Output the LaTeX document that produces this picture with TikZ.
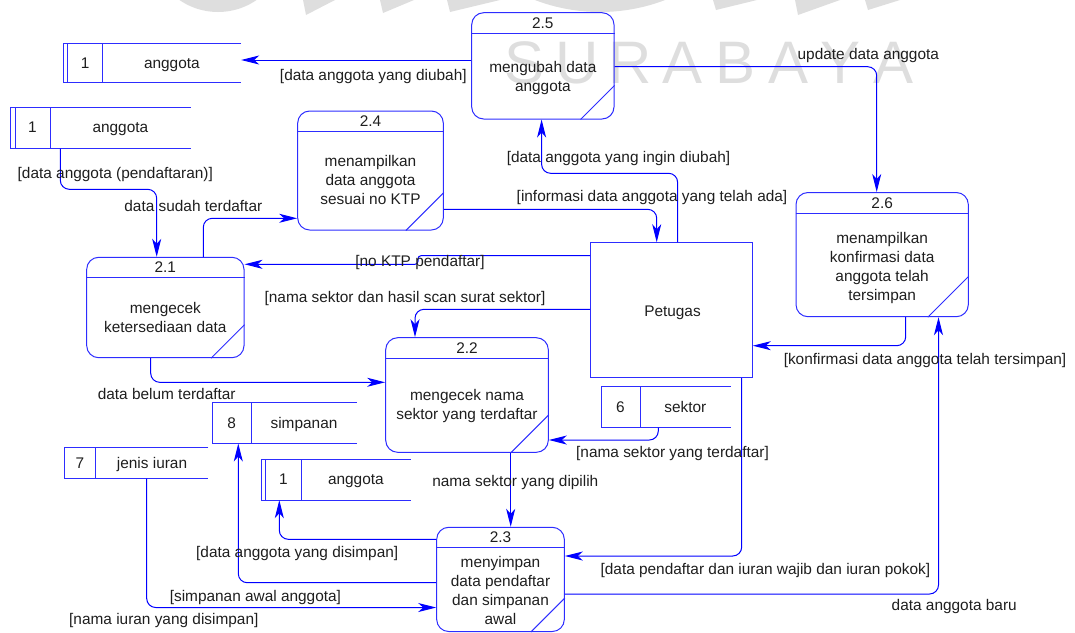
\documentclass[tikz,border=0pt]{standalone}
\usepackage{fontspec}
\setmainfont{Liberation Sans}
\usetikzlibrary{arrows.meta,calc}

\definecolor{flowblue}{RGB}{0,0,255}
\definecolor{boxblue}{RGB}{45,45,255}
\definecolor{inktext}{RGB}{30,30,30}
\definecolor{markgray}{RGB}{222,222,222}

\tikzset{
  boxline/.style={draw=boxblue, line width=1pt},
  procbox/.style={boxline, rectangle, rounded corners=12pt, inner sep=0pt},
  storebox/.style={rectangle, inner sep=0pt},
  flow/.style={draw=flowblue, line width=1pt, rounded corners=9pt,
    -{Stealth[length=18pt, width=9pt, inset=5pt]}},
  txt/.style={font=\fontsize{15.4}{19}\selectfont, text=inktext, inner sep=0pt, anchor=base},
  bodytext/.style={txt, align=center},
  lbl/.style={txt},
  markletter/.style={font=\fontsize{60}{60}\selectfont, text=markgray, inner sep=0pt, anchor=base}
}

% process: name, left, top, right, bottom, number, text, baseline of last line, corner cut
\newcommand{\dfdproc}[9]{%
  \node[procbox, minimum width={#4-#2}, minimum height={#5-#3}] (#1) at ({(#2+#4)/2},{(#3+#5)/2}) {};
  \draw[boxline] ($(#1.north west)+(0,21)$) -- ($(#1.north east)+(0,21)$);
  \draw[boxline] ($(#1.south east)-(#9,0)$) -- ($(#1.south east)-(0,#9)$);
  \node[txt] (#1-num) at ({(#2+#4)/2},{#3+15.5}) {#6};
  \node[bodytext] (#1-body) at ({(#2+#4)/2},#8) {#7};
}

% data store: name, left, top, right, bottom, divider, number, label, second left line offset
\newcommand{\dfdstore}[9]{%
  \node[storebox, minimum width={#4-#2+#9}, minimum height={#5-#3}] (#1) at ({(#2-#9+#4)/2},{(#3+#5)/2}) {};
  \draw[boxline] (#4,#3) -- ({#2-#9},#3) -- ({#2-#9},#5) -- (#4,#5);
  \draw[boxline] (#2,#3) -- (#2,#5);
  \draw[boxline] (#6,#3) -- (#6,#5);
  \node[txt] (#1-num) at ({(#2+#6)/2},{(#3+#5)/2+5}) {#7};
  \node[txt] (#1-name) at ({(#6+#4)/2},{(#3+#5)/2+5}) {#8};
}

\begin{document}
\begin{tikzpicture}[x=1pt, y=-1pt]
\useasboundingbox (0,0) rectangle (1075,632);

% faint background mark
\fill[markgray] (218,-56) circle[radius=68];
\fill[markgray] (303,0) -- (335,0) -- (306,15) -- cycle;
\fill[markgray] (380,0) -- (414,0) -- (383,13) -- cycle;
\fill[markgray] (447,0) -- (500,0) -- (450,12) -- cycle;
\fill[markgray] (600,-170) circle[radius=182];
\fill[markgray] (713,0) -- (757,0) -- (716,10) -- cycle;
\fill[markgray] (795,0) -- (840,0) -- (798,15) -- cycle;
\fill[markgray] (865,0) -- (900,0) -- (868,10) -- cycle;
\foreach \ch [count=\i from 0] in {S,U,R,A,B,A,Y,A}
  \node[markletter] (mark\i) at ({525+52.6*\i},83) {\ch};

% processes
\dfdproc{p25}{471.7}{12.7}{614}{119}{2.5}{mengubah data\\anggota}{91.8}{34}
\dfdproc{p24}{297.7}{111}{443.3}{230}{2.4}{menampilkan\\data anggota\\sesuai no KTP}{204.5}{38}
\dfdproc{p26}{796}{192.5}{968.3}{316.7}{2.6}{menampilkan\\konfirmasi data\\anggota telah\\tersimpan}{300.5}{41}
\dfdproc{p21}{86.7}{257.3}{244}{357.7}{2.1}{mengecek\\ketersediaan data}{332.8}{33.5}
\dfdproc{p22}{385.7}{337.7}{548.3}{452.3}{2.2}{mengecek nama\\sektor yang terdaftar}{419.5}{38}
\dfdproc{p23}{436.7}{527.3}{564.3}{631.5}{2.3}{menyimpan\\data pendaftar\\dan simpanan\\awal}{624.5}{34}

% external entity
\node[boxline, rectangle, inner sep=0pt, minimum width=161.6, minimum height=135] (pet) at (671.5,310.2) {};
\node[txt] (pet-name) at (672.5,316) {Petugas};

% data stores
\dfdstore{sA}{67.7}{43.3}{241}{82.7}{102.7}{1}{anggota}{4.4}
\dfdstore{sB}{15}{107.3}{190.7}{148.3}{50}{1}{anggota}{4.3}
\dfdstore{s8}{212}{402.7}{356.7}{443.3}{251.3}{8}{simpanan}{0}
\dfdstore{s7}{64.3}{447.7}{208.3}{478.3}{95.7}{7}{jenis iuran}{0}
\dfdstore{s1}{265.7}{459.7}{410.7}{500}{301}{1}{anggota}{4}
\dfdstore{s6}{601}{386.7}{730.7}{427.3}{640}{6}{sektor}{0}

% data flows
\draw[flow] (p25.west |- 0,60) -- (sA.east |- 0,60);
\draw[flow] (p25.east |- 0,66.7) -| (p26.north -| 876.7,0);
\draw[flow] (pet.north -| 677.6,0) |- (541.6,173.3) -- (p25.south -| 541.6,0);
\draw[flow] (sB.south -| 60.3,0) |- (156.7,189.3) -- (p21.north -| 156.7,0);
\draw[flow] (p21.north -| 203.3,0) |- (p24.west |- 0,218.3);
\draw[flow] (p24.east |- 0,209.3) -| (pet.north -| 656.7,0);
\draw[flow, rounded corners=3pt] (pet.west |- 0,255.7) -- (418,255.7) -- (418,264.3) -- (p21.east |- 0,264.3);
\draw[flow] (pet.west |- 0,309.3) -| (p22.north -| 415,0);
\draw[flow] (p21.south -| 150.7,0) |- (p22.west |- 0,382.3);
\draw[flow] (s6.south -| 658.3,0) |- (p22.east |- 0,440);
\draw[flow] (p22.south -| 510.7,0) -- (p23.north -| 510.7,0);
\draw[flow] (p23.west |- 0,539.3) -| (s1.south -| 279.3,0);
\draw[flow] (p23.west |- 0,582.7) -| (s8.south -| 238.3,0);
\draw[flow] (s7.south -| 146.7,0) |- (p23.west |- 0,607.5);
\draw[flow] (pet.south -| 741.7,0) |- (p23.east |- 0,556);
\draw[flow] (p23.east |- 0,594) -| (p26.south -| 938.5,0);
\draw[flow] (p26.south -| 905.7,0) |- (pet.east |- 0,345.7);

% flow labels
\node[lbl] (l1) at (373.3,80.2) {[data anggota yang diubah]};
\node[lbl] (l2) at (868.3,59.5) {update data anggota};
\node[lbl] (l3) at (618.5,162.5) {[data anggota yang ingin diubah]};
\node[lbl] (l4) at (652,201.8) {[informasi data anggota yang telah ada]};
\node[lbl] (l5) at (115.3,178.5) {[data anggota (pendaftaran)]};
\node[lbl] (l6) at (193.3,211.2) {data sudah terdaftar};
\node[lbl] (l7) at (420,266.2) {[no KTP pendaftar]};
\node[lbl] (l8) at (405,302.8) {[nama sektor dan hasil scan surat sektor]};
\node[lbl] (l9) at (166.7,399.5) {data belum terdaftar};
\node[lbl] (l10) at (672.5,457.8) {[nama sektor yang terdaftar]};
\node[lbl] (l11) at (515.3,486.2) {nama sektor yang dipilih};
\node[lbl] (l12) at (297.2,557.2) {[data anggota yang disimpan]};
\node[lbl] (l13) at (255.4,601.2) {[simpanan awal anggota]};
\node[lbl] (l14) at (163.8,624.5) {[nama iuran yang disimpan]};
\node[lbl] (l15) at (765.4,574.5) {[data pendaftar dan iuran wajib dan iuran pokok]};
\node[lbl] (l16) at (954.2,610.5) {data anggota baru};
\node[lbl] (l17) at (925,364.5) {[konfirmasi data anggota telah tersimpan]};
\end{tikzpicture}
\end{document}
